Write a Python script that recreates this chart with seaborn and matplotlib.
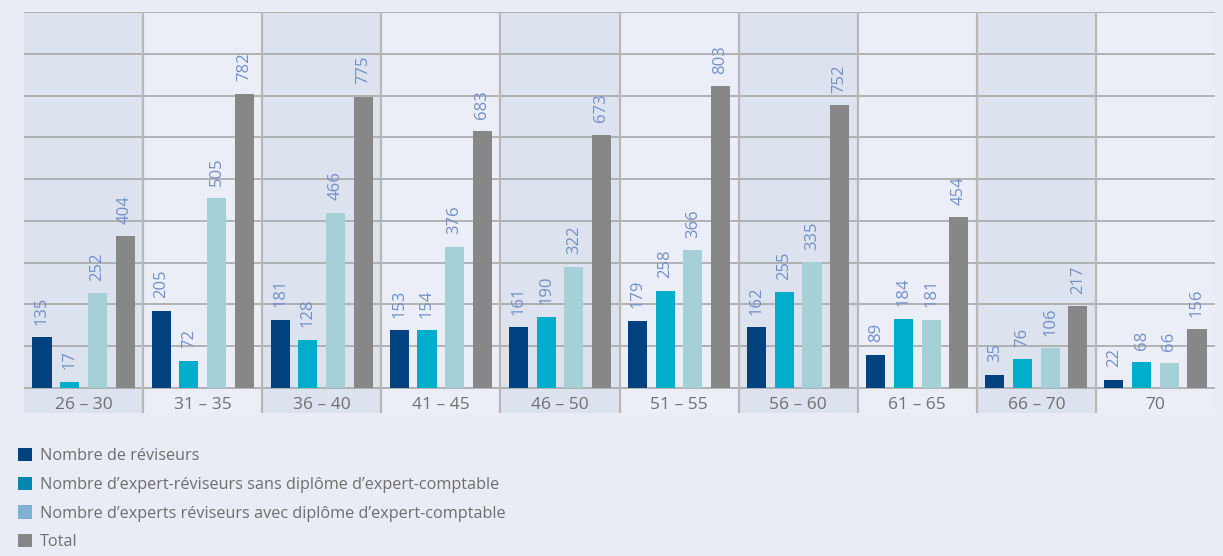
import matplotlib
matplotlib.use("Agg")
import matplotlib.pyplot as plt
from matplotlib.patches import Patch
import seaborn as sns
import pandas as pd

categories = ["26 – 30", "31 – 35", "36 – 40", "41 – 45", "46 – 50",
              "51 – 55", "56 – 60", "61 – 65", "66 – 70", "70"]
reviseurs = [135, 205, 181, 153, 161, 179, 162, 89, 35, 22]
sans_diplome = [17, 72, 128, 154, 190, 258, 255, 184, 76, 68]
avec_diplome = [252, 505, 466, 376, 322, 366, 335, 181, 106, 66]
total = [404, 782, 775, 683, 673, 803, 752, 454, 217, 156]
series_names = ["Nombre de réviseurs",
                "Nombre d’expert-réviseurs sans diplôme d’expert-comptable",
                "Nombre d’experts réviseurs avec diplôme d’expert-comptable",
                "Total"]
series_values = [reviseurs, sans_diplome, avec_diplome, total]

bar_colors = ["#00427F", "#00AECB", "#A5D0D7", "#878787"]
legend_colors = ["#00427F", "#0088B0", "#7FB2D2", "#878787"]

rows = []
for name, vals in zip(series_names, series_values):
    for c, v in zip(categories, vals):
        rows.append({"cat": c, "val": v, "series": name})
df = pd.DataFrame(rows)

sns.set_theme(style="white")

W, H = 1223, 556
fig = plt.figure(figsize=(W / 100, H / 100), dpi=100, facecolor="#E9ECF4")
ax = fig.add_axes([24 / W, 1 - 413 / H, (1215 - 24) / W, (413 - 12) / H])
ax.set_facecolor("#EBEEF6")

ymax = 1000
band = -25 / 376 * ymax
for i in range(0, len(categories), 2):
    ax.axvspan(i - 0.5, i + 0.5, color="#DCE2EE", zorder=0, lw=0)
for k in range(10):
    ax.axhline(k * ymax / 9, color="#A8A8A8", lw=1.2, zorder=1)
for i in range(1, len(categories)):
    ax.axvline(i - 0.5, color="#B8B8B8", lw=1.6, zorder=1)

sns.barplot(data=df, x="cat", y="val", hue="series", order=categories,
            hue_order=series_names, palette=bar_colors, saturation=1,
            width=0.93, gap=0.31, legend=False, ax=ax, zorder=3,
            linewidth=0, edgecolor="none")

for cont, vals in zip(ax.containers, series_values):
    ax.bar_label(cont, labels=[str(v) for v in vals], rotation=90, padding=9,
                 color="#7290C8", fontsize=12, family="Open Sans")

ax.set_xlim(-0.5, len(categories) - 0.5)
ax.set_ylim(band, ymax)
ax.set_yticks([])
ax.set_xlabel("")
ax.set_ylabel("")
for s in ax.spines.values():
    s.set_visible(False)
ax.tick_params(axis="x", length=0, pad=-11.5, labelsize=12.5, labelcolor="#707070")
for t in ax.get_xticklabels():
    t.set_family("Open Sans")

handles = [Patch(facecolor=c, edgecolor="none", label=n)
           for c, n in zip(legend_colors, series_names)]
fs = 11.7
fpx = fs * 100 / 72
leg = fig.legend(handles=handles, loc="upper left",
                 bbox_to_anchor=(18 / W, 1 - (458 - fpx * 0.51 - 2) / H),
                 frameon=False, borderaxespad=0, borderpad=0,
                 handlelength=14 / fpx, handleheight=14 / fpx,
                 handletextpad=8 / fpx,
                 labelspacing=29.3 / fpx - 1.022,
                 prop={"family": "Open Sans", "size": fs},
                 labelcolor="#6E6E6E")

fig.savefig("out.png", dpi=100, facecolor=fig.get_facecolor())
